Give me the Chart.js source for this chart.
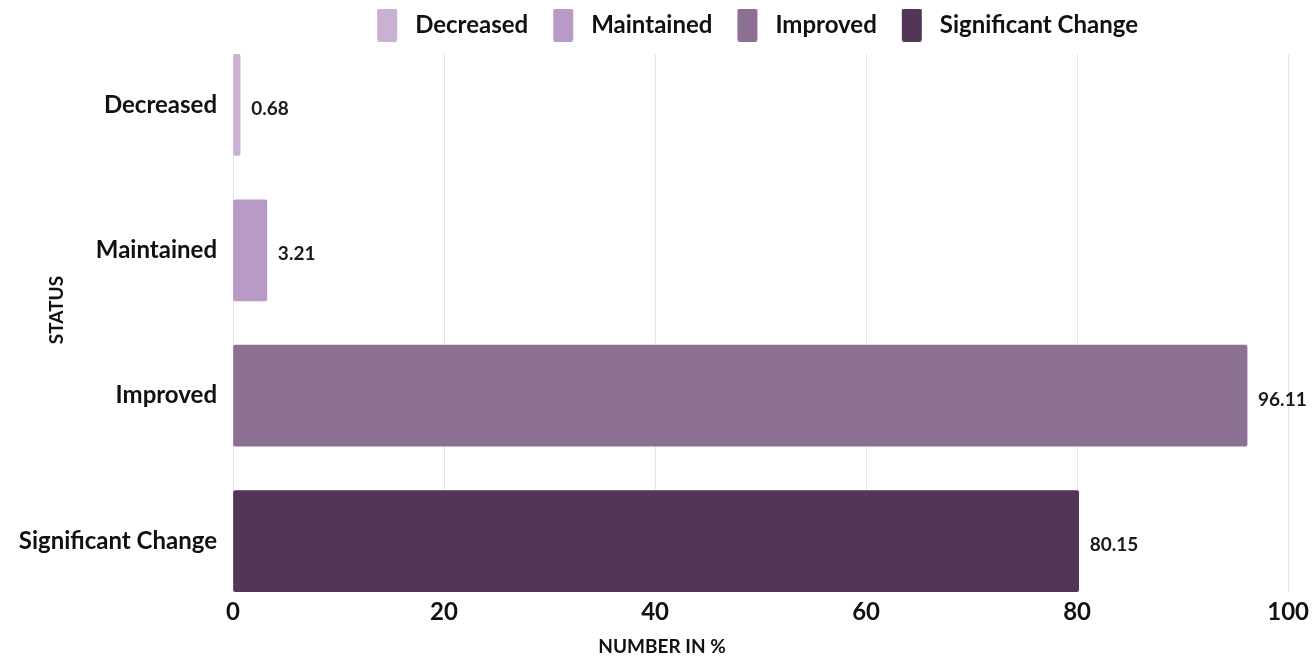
<!DOCTYPE html>
<html>
<head>
<meta charset="utf-8">
<script src="https://cdn.jsdelivr.net/npm/chart.js@4.4.1/dist/chart.umd.min.js"></script>
<style>
  html, body { margin: 0; padding: 0; background: #ffffff; }
  #wrap { width: 1315px; height: 658px; position: relative; }
</style>
</head>
<body>
<div id="wrap"><canvas id="chart" width="1315" height="658"></canvas></div>
<script>
// Status categories and their shares (percent)
const categories = ["Decreased", "Maintained", "Improved", "Significant Change"];
const values = [0.68, 3.21, 96.11, 80.15];
const barColors = ["#c9b1d3", "#b89ac6", "#8b7094", "#51365a"];
const xTicks = [0, 20, 40, 60, 80, 100];
const xTitle = "NUMBER IN %";
const yTitle = "STATUS";

const FONT = "Lato, 'Open Sans', sans-serif";
const Y_MIN = -0.35, Y_MAX = 3.35;

// Legend swatch: a 20x33 colour block with some clear space on either side
const SWATCH_LEAD = 12, SWATCH_W = 20, SWATCH_TRAIL = 6, SWATCH_H = 33;
function makeSwatch(color) {
  const c = document.createElement("canvas");
  c.width = SWATCH_LEAD + SWATCH_W + SWATCH_TRAIL;
  c.height = SWATCH_H;
  const g = c.getContext("2d");
  g.fillStyle = color;
  g.beginPath();
  g.roundRect(SWATCH_LEAD, 0, SWATCH_W, SWATCH_H, 2);
  g.fill();
  return c;
}
const swatches = barColors.map(makeSwatch);

// Value labels to the right of each bar, the two axis titles, and the legend band
const annotate = {
  id: "annotate",
  afterInit(chart) {
    const legend = chart.legend;
    const baseFit = legend.fit.bind(legend);
    legend.fit = function () { baseFit(); this.height = 54; };
  },
  afterLayout(chart) {
    // nudge the legend row a little to the left of the plot centre
    chart.legend.left -= 9;
    chart.legend.right -= 9;
  },
  afterDatasetsDraw(chart) {
    const ctx = chart.ctx;
    const meta = chart.getDatasetMeta(0);
    ctx.save();
    ctx.font = "bold 19px " + FONT;
    ctx.fillStyle = "#1a1a1a";
    ctx.textAlign = "left";
    ctx.textBaseline = "middle";
    meta.data.forEach((bar, i) => {
      ctx.fillText(values[i].toFixed(2), bar.x + 11, bar.y + 4);
    });
    ctx.restore();
  },
  afterDraw(chart) {
    const ctx = chart.ctx;
    ctx.save();
    ctx.font = "bold 19px " + FONT;
    ctx.fillStyle = "#111111";
    ctx.textAlign = "center";
    ctx.textBaseline = "middle";
    ctx.fillText(xTitle, 662, 647);
    ctx.translate(57, 310);
    ctx.rotate(-Math.PI / 2);
    ctx.fillText(yTitle, 0, 0);
    ctx.restore();
  }
};

new Chart(document.getElementById("chart"), {
  type: "bar",
  data: {
    datasets: [{
      data: values.map((v, i) => ({ x: v, y: i })),
      backgroundColor: barColors,
      borderWidth: 0,
      borderRadius: 2,
      borderSkipped: false,
      barThickness: 101
    }]
  },
  options: {
    indexAxis: "y",
    responsive: false,
    animation: false,
    layout: { padding: { left: 0, right: 0, top: 0, bottom: 0 } },
    plugins: {
      tooltip: { enabled: false },
      legend: {
        position: "top",
        fullSize: false,
        labels: {
          font: { family: FONT, size: 24, weight: "bold" },
          color: "#111111",
          usePointStyle: true,
          pointStyleWidth: SWATCH_LEAD + SWATCH_W + SWATCH_TRAIL,
          padding: 13,
          generateLabels() {
            return categories.map((c, i) => ({
              text: c,
              fillStyle: barColors[i],
              strokeStyle: barColors[i],
              lineWidth: 0,
              pointStyle: swatches[i],
              hidden: false,
              index: i,
              fontColor: "#111111"
            }));
          }
        }
      }
    },
    scales: {
      x: {
        type: "linear",
        min: 0,
        max: 100,
        afterBuildTicks(scale) { scale.ticks = xTicks.map(v => ({ value: v })); },
        afterFit(scale) { scale.height = 66; },
        grid: { color: "#e6e6e6", lineWidth: 1, drawTicks: false },
        border: { display: false },
        ticks: {
          font: { family: FONT, size: 24, weight: "bold" },
          color: "#111111",
          padding: 6
        }
      },
      y: {
        type: "linear",
        reverse: true,
        offset: false,
        min: Y_MIN,
        max: Y_MAX,
        afterDataLimits(scale) { scale.min = Y_MIN; scale.max = Y_MAX; },
        afterBuildTicks(scale) {
          scale.min = Y_MIN; scale.max = Y_MAX;
          scale.ticks = categories.map((c, i) => ({ value: i }));
        },
        afterFit(scale) { scale.width = 233; },
        grid: { display: false, drawTicks: false },
        border: { display: false },
        ticks: {
          font: { family: FONT, size: 24, weight: "bold" },
          color: "#111111",
          padding: 16,
          callback: (v) => categories[v]
        }
      }
    }
  },
  plugins: [annotate]
});
</script>
</body>
</html>
